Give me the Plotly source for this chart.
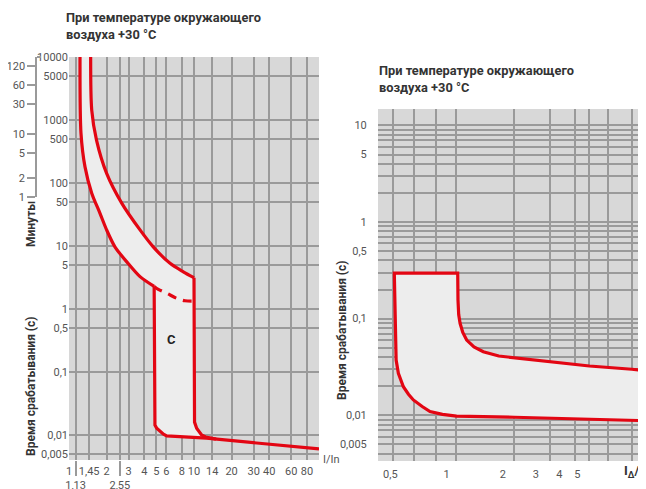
import numpy as np
import plotly.graph_objects as go

W, H = 646, 489
# the page body adds an 8px offset; positions below are measured in window pixels
OX, OY = 8, 8
def px(x): return (x - OX) / W
def py(y): return 1 - (y - OY) / H

FONT = "Roboto"
RED = "#e30613"
GRID = "#9a9a9a"
DARK_BG = "#d8d8d8"
LIGHT_BG = "#ededed"
TICK_COLOR = "#555555"
TITLE_COLOR = "#333333"

# ---------------- Left chart (characteristic C) ----------------
left_xticks = [1, 1.45, 2, 3, 4, 5, 6, 8, 10, 14, 20, 30, 40, 60, 80]
left_xticktext = ["1", "1,45", "2", "3", "4", "5", "6", "8", "10", "14", "20", "30", "40", "60", "80"]
left_xextra = [1.13, 2.55]
left_xextratext = ["1,13", "2,55"]
left_xgrid = [1, 1.13, 1.45, 2, 2.55, 3, 4, 5, 6, 8, 10, 14, 20, 30, 40, 60, 80, 100]
left_yticks = [0.005, 0.01, 0.1, 0.5, 1, 5, 10, 50, 100, 500, 1000, 5000, 10000]
left_yticktext = ["0,005", "0,01", "0,1", "0,5", "1", "5", "10", "50", "100", "500", "1000", "5000", "10000"]
minute_ticks = [1, 2, 5, 10, 30, 60, 120]
minute_ticktext = ["1", "2", "5", "10", "30", "60", "120"]

# lower (left) thermal curve
lower_x = [1.225, 1.247, 1.343, 1.52, 1.77, 2.0, 2.33, 2.9, 3.7, 4.8]
lower_y = [10000, 620, 180, 69, 33, 18, 9.7, 5.6, 3.26, 2.28]
# instantaneous release, lower bound (vertical + knee)
knee_x = [4.8, 4.8, 4.81, 4.87, 5.03, 5.35, 5.7, 6.05]
knee_y = [2.28, 0.022, 0.018, 0.0144, 0.0128, 0.0113, 0.0103, 0.0097]
# common bottom line
bottom_x = [6.05, 12.6, 100]
bottom_y = [0.0097, 0.0089, 0.006]
# upper (right) thermal curve
upper_x = [1.49, 1.52, 1.66, 2.0, 2.64, 3.7, 4.72, 6.43, 8.21, 10.0]
upper_y = [10000, 1440, 480, 142, 48, 18, 9.7, 5.3, 3.9, 3.14]
# instantaneous release, upper bound (vertical + knee)
tail_x = [10.0, 10.0, 10.1, 10.5, 11.0, 11.5, 12.4, 13.4, 15.0]
tail_y = [3.14, 0.0195, 0.0160, 0.0128, 0.0111, 0.0100, 0.0093, 0.0089, 0.0086]
# dashed continuation
dash_x = [4.8, 5.18, 6.05, 7.26, 8.47, 10.0]
dash_y = [2.28, 2.05, 1.78, 1.48, 1.35, 1.33]
c_label = ("C", 6.6, 0.33)

# ---------------- Right chart (RCD) ----------------
right_xticks = [0.5, 1, 2, 3, 4, 5]
right_xticktext = ["0,5", "1", "2", "3", "4", "5"]
right_xgrid = [0.517, 0.669, 0.877, 1.12, 2.30, 3.57, 4.86, 5.8, 7.3, 9.77]
right_yticks = [0.005, 0.01, 0.1, 0.5, 1, 5, 10]
right_yticktext = ["0,005", "0,01", "0,1", "0,5", "1", "5", "10"]
right_ygrid = [0.004, 0.005, 0.006, 0.007, 0.008, 0.009,
               0.01, 0.02, 0.03, 0.04, 0.05, 0.06, 0.07, 0.08, 0.09,
               0.1, 0.2, 0.3, 0.4, 0.5, 0.6, 0.7, 0.8, 0.9,
               1, 2, 3, 4, 5, 6, 7, 8, 9, 10]
r_low_x = [0.525, 0.53, 0.537, 0.552, 0.587, 0.625, 0.664, 0.74, 0.815, 0.95, 1.13, 2.3, 4.85, 11.65]
r_low_y = [0.296, 0.1, 0.0373, 0.0272, 0.0197, 0.0165, 0.0144, 0.0123, 0.0109, 0.0102, 0.0098, 0.00953, 0.00914, 0.00877]
r_up_x = [0.525, 1.146, 1.15, 1.16, 1.18, 1.22, 1.28, 1.4, 1.57, 1.9, 2.30, 3.57, 5.8, 9.77, 11.65]
r_up_y = [0.296, 0.296, 0.156, 0.11, 0.0894, 0.072, 0.060, 0.051, 0.0454, 0.041, 0.0388, 0.0358, 0.0323, 0.0299, 0.0289]

fig = go.Figure()

# ---- left fill (below grid) ----
up_full_x = upper_x + tail_x[1:]
up_full_y = upper_y + tail_y[1:]
fill_x = lower_x + knee_x[1:] + [bottom_x[1]] + up_full_x[::-1]
fill_y = lower_y + knee_y[1:] + [bottom_y[1]] + up_full_y[::-1]
fig.add_trace(go.Scatter(x=fill_x, y=fill_y, fill="toself", fillcolor=LIGHT_BG,
                         line=dict(width=0), mode="lines", hoverinfo="skip",
                         xaxis="x", yaxis="y", showlegend=False))

# ---- left curves (above grid) ----
spline = dict(color=RED, width=3.2, shape="spline", smoothing=0.8)
straight = dict(color=RED, width=3.2)
fig.add_trace(go.Scatter(x=lower_x, y=lower_y, mode="lines", line=spline,
                         xaxis="x2", yaxis="y2", showlegend=False))
fig.add_trace(go.Scatter(x=knee_x + bottom_x[1:], y=knee_y + bottom_y[1:], mode="lines",
                         line=straight, xaxis="x2", yaxis="y2", showlegend=False))
fig.add_trace(go.Scatter(x=upper_x, y=upper_y, mode="lines", line=spline,
                         xaxis="x2", yaxis="y2", showlegend=False))
fig.add_trace(go.Scatter(x=tail_x, y=tail_y, mode="lines", line=straight,
                         xaxis="x2", yaxis="y2", showlegend=False))
fig.add_trace(go.Scatter(x=dash_x, y=dash_y, mode="lines",
                         line=dict(color=RED, width=3.2, dash="9px,7px", shape="spline"),
                         xaxis="x2", yaxis="y2", showlegend=False))

# dummy traces for helper axes
fig.add_trace(go.Scatter(x=[2], y=[1], mode="markers", marker=dict(opacity=0),
                         xaxis="x3", yaxis="y", showlegend=False, hoverinfo="skip"))
fig.add_trace(go.Scatter(x=[2], y=[10], mode="markers", marker=dict(opacity=0),
                         xaxis="x", yaxis="y3", showlegend=False, hoverinfo="skip"))
fig.add_trace(go.Scatter(x=[2], y=[10], mode="markers", marker=dict(opacity=0),
                         xaxis="x", yaxis="y6", showlegend=False, hoverinfo="skip"))

# ---- right fill + curve ----
r_path_x = r_up_x[::-1] + r_low_x[1:]
r_path_y = r_up_y[::-1] + r_low_y[1:]
fig.add_trace(go.Scatter(x=r_path_x, y=r_path_y, fill="toself", fillcolor=LIGHT_BG,
                         line=dict(width=0), mode="lines", hoverinfo="skip",
                         xaxis="x4", yaxis="y4", showlegend=False))
fig.add_trace(go.Scatter(x=r_path_x, y=r_path_y, mode="lines", line=straight,
                         xaxis="x5", yaxis="y5", showlegend=False))

tickfont = dict(family=FONT, size=11, color=TICK_COLOR)
L_XR = [0, 2]
L_YR = [-2.397, 4]
R_XR = [-0.367, 1.066]
R_YR = [-2.474, 1.17]
L_XD = [px(69), px(319)]
L_YD = [py(460), py(57)]
R_XD = [px(378), px(646)]
R_YD = [py(461), py(109)]

off = dict(zeroline=False, showline=False, automargin=False)

fig.update_layout(
    width=W, height=H,
    margin=dict(l=0, r=0, t=0, b=0, pad=0, autoexpand=False),
    paper_bgcolor="white",
    plot_bgcolor="rgba(0,0,0,0)",
    font=dict(family=FONT),
    xaxis=dict(type="log", range=L_XR, domain=L_XD, anchor="y",
               tickvals=left_xticks, ticktext=left_xticktext, tickfont=tickfont,
               showgrid=False, ticks="outside", ticklen=1, tickcolor="rgba(0,0,0,0)", **off),
    yaxis=dict(type="log", range=L_YR, domain=L_YD, anchor="x",
               tickvals=left_yticks, ticktext=left_yticktext, tickfont=tickfont,
               showgrid=False, ticks="", **off),
    xaxis2=dict(type="log", range=L_XR, overlaying="x", anchor="y2",
                tickvals=left_xgrid, showticklabels=False, showgrid=True,
                gridcolor=GRID, gridwidth=1.5, ticks="", **off),
    yaxis2=dict(type="log", range=L_YR, overlaying="y", anchor="x2",
                tickvals=left_yticks, showticklabels=False, showgrid=True,
                gridcolor=GRID, gridwidth=1.5, ticks="", **off),
    xaxis3=dict(type="log", range=L_XR, overlaying="x", anchor="y",
                tickvals=left_xextra, ticktext=left_xextratext, tickfont=tickfont,
                ticks="outside", ticklen=15, tickwidth=1.5, tickcolor=GRID,
                showgrid=False, **off),
    yaxis3=dict(type="log", range=[0, float(np.log10(10000 / 60))],
                domain=[py(197), py(57)], anchor="free", position=px(36), side="left",
                tickvals=minute_ticks, ticktext=minute_ticktext, tickfont=tickfont,
                ticks="outside", ticklen=8, tickwidth=1.5, tickcolor=GRID,
                showline=True, linecolor=GRID, linewidth=1.5,
                showgrid=False, zeroline=False, automargin=False),
    yaxis6=dict(type="log", range=[0, float(np.log10(10000 / 60))],
                overlaying="y3", anchor="free", position=px(36), side="right",
                tickvals=[10000 / 60], showticklabels=False,
                ticks="outside", ticklen=4, tickwidth=1.5, tickcolor=GRID,
                showgrid=False, **off),
    xaxis4=dict(type="log", range=R_XR, domain=R_XD, anchor="y4",
                tickvals=right_xticks, ticktext=right_xticktext, tickfont=tickfont,
                showgrid=False, ticks="outside", ticklen=3, tickcolor="rgba(0,0,0,0)", **off),
    yaxis4=dict(type="log", range=R_YR, domain=R_YD, anchor="x4",
                tickvals=right_yticks, ticktext=right_yticktext, tickfont=tickfont,
                showgrid=False, ticks="outside", ticklen=8, tickcolor="rgba(0,0,0,0)", **off),
    xaxis5=dict(type="log", range=R_XR, overlaying="x4", anchor="y5",
                tickvals=right_xgrid, showticklabels=False, showgrid=True,
                gridcolor=GRID, gridwidth=1.5, ticks="", **off),
    yaxis5=dict(type="log", range=R_YR, overlaying="y4", anchor="x5",
                tickvals=right_ygrid, showticklabels=False, showgrid=True,
                gridcolor=GRID, gridwidth=1.5, ticks="", **off),
)

# backgrounds
for xr, yr in (("x domain", "y domain"), ("x4 domain", "y4 domain")):
    fig.add_shape(type="rect", xref=xr, yref=yr, x0=0, x1=1, y0=0, y1=1,
                  fillcolor=DARK_BG, line=dict(width=0), layer="below")

head_font = dict(family=FONT, size=12.8, color=TITLE_COLOR)
title_font = dict(family=FONT, size=12, color=TITLE_COLOR)
ann = [
    dict(text="<b>При температуре окружающего<br>воздуха +30 °С</b>", x=px(64), y=py(26),
         xanchor="left", yanchor="middle", align="left", font=head_font),
    dict(text="<b>При температуре окружающего<br>воздуха +30 °С</b>", x=px(377), y=py(79),
         xanchor="left", yanchor="middle", align="left", font=head_font),
    dict(text="<b>Минуты</b>", x=px(31), y=py(224), textangle=-90,
         xanchor="center", yanchor="middle", font=title_font),
    dict(text="<b>Время срабатывания (с)</b>", x=px(31), y=py(386), textangle=-90,
         xanchor="center", yanchor="middle", font=title_font),
    dict(text="<b>Время срабатывания (с)</b>", x=px(342), y=py(330), textangle=-90,
         xanchor="center", yanchor="middle", font=title_font),
    dict(text="I/In", x=px(321), y=py(459), xanchor="left", yanchor="middle",
         font=dict(family=FONT, size=11, color=TICK_COLOR)),
    dict(text="<b>I<sub>Δ</sub>/I<sub>Δn</sub></b>", x=px(622), y=py(471),
         xanchor="left", yanchor="middle", font=dict(family=FONT, size=13, color=TITLE_COLOR)),
]
for a in ann:
    fig.add_annotation(xref="paper", yref="paper", showarrow=False, **a)

fig.add_annotation(xref="x2", yref="y2", x=float(np.log10(c_label[1])), y=float(np.log10(c_label[2])),
                   text="<b>" + c_label[0] + "</b>", showarrow=False,
                   font=dict(family=FONT, size=13, color="#222222"))

fig.write_html("out.html")
